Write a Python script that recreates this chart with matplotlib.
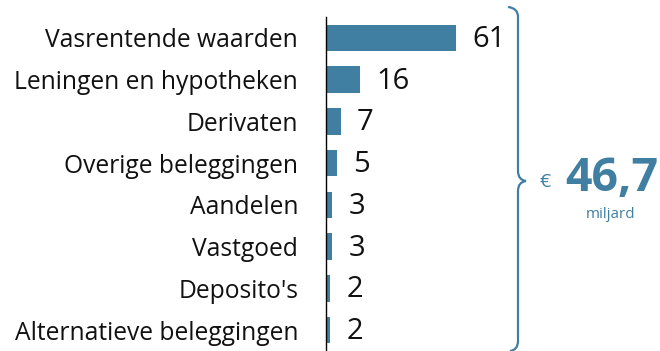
import matplotlib
matplotlib.use("Agg")
import matplotlib.pyplot as plt
from matplotlib.path import Path
from matplotlib.patches import PathPatch

categories = ["Vasrentende waarden", "Leningen en hypotheken", "Derivaten",
              "Overige beleggingen", "Aandelen", "Vastgoed", "Deposito's",
              "Alternatieve beleggingen"]
values = [61, 16, 7, 5, 3, 3, 2, 2]
total_label = "46,7"
unit_label = "miljard"

BLUE = "#407fa2"
W, H = 660, 351
plt.rcParams["font.family"] = ["Open Sans", "DejaVu Sans"]

fig = plt.figure(figsize=(W / 100, H / 100), dpi=100)

# axes in pixel terms: left edge at x=326, top at y=17
left, top, right = 326, 17, 646
ax = fig.add_axes([left / W, 0, (right - left) / W, (H - top) / H])
y = list(range(len(categories)))
ax.barh(y, values, height=0.64, color=BLUE)
ax.set_xlim(0, (right - left) / 2.13)
ax.set_ylim(len(categories) - 0.5, -0.5)
ax.set_yticks(y)
ax.set_yticklabels(categories, fontsize=17.7, color="#111111")
ax.tick_params(axis="y", length=0, pad=20)
ax.set_xticks([])
for side in ("top", "right", "bottom"):
    ax.spines[side].set_visible(False)
ax.spines["left"].set_linewidth(1.0)
ax.spines["left"].set_color("black")

for yi, v in zip(y, values):
    ax.annotate(str(v), (v, yi), xytext=(11.5, -1), textcoords="offset points",
                va="center", ha="left", fontsize=21, color="#111111")

# curly brace grouping all bars
def px(x, yy):
    return (x / W, 1 - yy / H)

bx, tip_x, tip_y = 518, 526, 181
pts = [
    px(508, 7), px(518, 8), px(bx, 17),
    px(bx, tip_y - 10),
    px(bx, tip_y - 1), px(tip_x, tip_y),
    px(bx, tip_y + 1), px(bx, tip_y + 10),
    px(bx, 341),
    px(bx, 350), px(510, 351),
]
codes = [Path.MOVETO, Path.CURVE3, Path.CURVE3,
         Path.LINETO,
         Path.CURVE3, Path.CURVE3,
         Path.CURVE3, Path.CURVE3,
         Path.LINETO,
         Path.CURVE3, Path.CURVE3]
fig.patches.append(PathPatch(Path(pts, codes), transform=fig.transFigure,
                             fill=False, edgecolor=BLUE, linewidth=1.6))

fig.text(*px(539, 182), "€", fontsize=14, color=BLUE, ha="left", va="center")
fig.text(*px(565, 178), total_label, fontsize=33.5, fontweight="bold", color=BLUE,
         ha="left", va="center")
fig.text(*px(611, 214), unit_label, fontsize=11, color=BLUE, ha="center", va="center")

fig.savefig("out.png", dpi=100)
